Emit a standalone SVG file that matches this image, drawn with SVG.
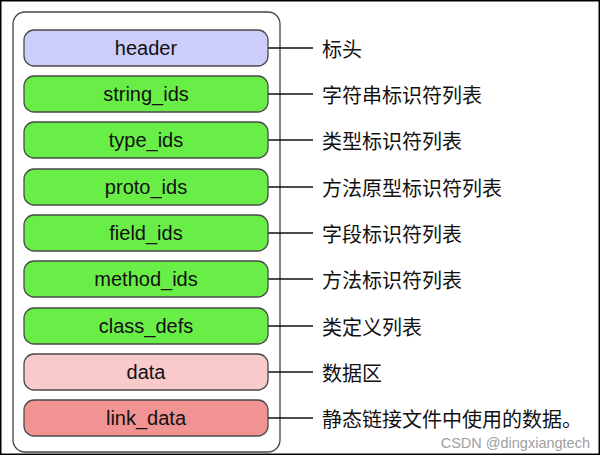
<svg xmlns="http://www.w3.org/2000/svg" width="600" height="455" viewBox="0 0 600 455">
<style>
.box{stroke:#4a4a4a;stroke-width:1.3}
.lbl{font-family:"Liberation Sans",Arial,sans-serif;font-size:20px;fill:#111;text-anchor:middle;dominant-baseline:central}
.cn{font-family:"Noto Sans CJK SC","Noto Sans",sans-serif;font-size:20px;fill:#111;dominant-baseline:central}
.ln{stroke:#111;stroke-width:1.4}
.blue{fill:#cdcdfb}.green{fill:#69ee48}.pink{fill:#f8caca}.red{fill:#f09392}
</style>
<rect x="0" y="0" width="600" height="455" fill="#fff"/>
<rect x="0.75" y="0.75" width="598.5" height="453.5" fill="none" stroke="#000" stroke-width="1.5"/>
<g id="container"><rect x="13" y="12" width="267" height="440" rx="12" fill="#fff" stroke="#444" stroke-width="1.3"/></g>
<g id="connectors">
<line class="ln" x1="268" y1="48" x2="313" y2="48"/>
<line class="ln" x1="268" y1="94" x2="313" y2="94"/>
<line class="ln" x1="268" y1="140" x2="313" y2="140"/>
<line class="ln" x1="268" y1="187" x2="313" y2="187"/>
<line class="ln" x1="268" y1="233" x2="313" y2="233"/>
<line class="ln" x1="268" y1="279" x2="313" y2="279"/>
<line class="ln" x1="268" y1="326" x2="313" y2="326"/>
<line class="ln" x1="268" y1="372" x2="313" y2="372"/>
<line class="ln" x1="268" y1="418" x2="313" y2="418"/>
</g>
<g id="header"><rect class="box blue" x="24" y="30" width="244" height="36" rx="10"/><text class="lbl" x="146" y="48">header</text><text class="cn" x="322" y="48">标头</text></g>
<g id="string_ids"><rect class="box green" x="24" y="76" width="244" height="36" rx="10"/><text class="lbl" x="146" y="94">string_ids</text><text class="cn" x="322" y="94">字符串标识符列表</text></g>
<g id="type_ids"><rect class="box green" x="24" y="122" width="244" height="36" rx="10"/><text class="lbl" x="146" y="140">type_ids</text><text class="cn" x="322" y="140">类型标识符列表</text></g>
<g id="proto_ids"><rect class="box green" x="24" y="169" width="244" height="36" rx="10"/><text class="lbl" x="146" y="187">proto_ids</text><text class="cn" x="322" y="187">方法原型标识符列表</text></g>
<g id="field_ids"><rect class="box green" x="24" y="215" width="244" height="36" rx="10"/><text class="lbl" x="146" y="233">field_ids</text><text class="cn" x="322" y="233">字段标识符列表</text></g>
<g id="method_ids"><rect class="box green" x="24" y="261" width="244" height="36" rx="10"/><text class="lbl" x="146" y="279">method_ids</text><text class="cn" x="322" y="279">方法标识符列表</text></g>
<g id="class_defs"><rect class="box green" x="24" y="308" width="244" height="36" rx="10"/><text class="lbl" x="146" y="326">class_defs</text><text class="cn" x="322" y="326">类定义列表</text></g>
<g id="data"><rect class="box pink" x="24" y="354" width="244" height="36" rx="10"/><text class="lbl" x="146" y="372">data</text><text class="cn" x="322" y="372">数据区</text></g>
<g id="link_data"><rect class="box red" x="24" y="400" width="244" height="36" rx="10"/><text class="lbl" x="146" y="418">link_data</text><text class="cn" x="322" y="418">静态链接文件中使用的数据。</text></g>
<text x="590" y="443" font-family="'Liberation Sans',Arial,sans-serif" font-size="14.5" fill="#a0a0a0" text-anchor="end" dominant-baseline="central">CSDN @dingxiangtech</text>
</svg>
